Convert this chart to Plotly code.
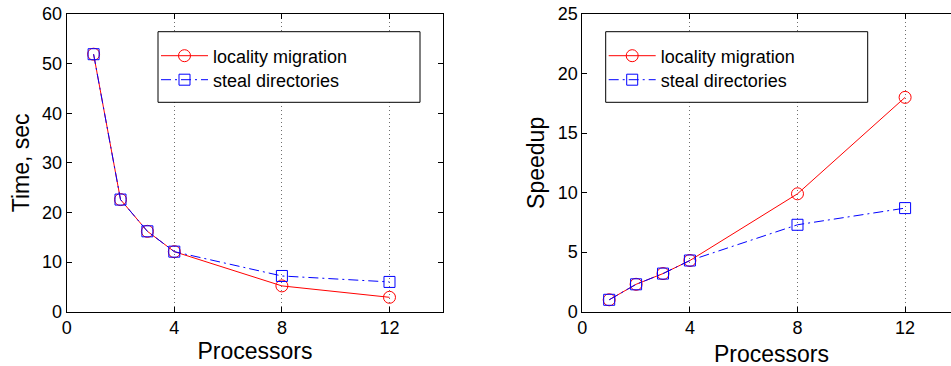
import plotly.graph_objects as go

processors = [1, 2, 3, 4, 8, 12]
time_locality = [51.9, 22.6, 16.2, 12.1, 5.2, 2.9]
time_steal = [51.9, 22.6, 16.2, 12.1, 7.2, 6.0]
speedup_locality = [1.0, 2.3, 3.2, 4.3, 9.9, 18.0]
speedup_steal = [1.0, 2.3, 3.2, 4.3, 7.3, 8.7]
series_names = ["locality migration", "steal directories"]
x_ticks = [0, 4, 8, 12]

W, H = 951, 366
FONT = "Liberation Sans, Arial, sans-serif"
RED = "rgb(255,0,0)"
BLUE = "rgb(0,0,255)"

fig = go.Figure()

def add_pair(xa, ya, y1, y2, leg1, leg2):
    fig.add_trace(go.Scatter(
        x=processors, y=y1, name=series_names[0], xaxis=xa, yaxis=ya,
        mode="lines+markers", legend=leg1, showlegend=True,
        line=dict(color=RED, width=1),
        marker=dict(symbol="circle-open", size=12, color=RED, line=dict(width=1, color=RED)),
    ))
    fig.add_trace(go.Scatter(
        x=processors, y=y2, name=series_names[1], xaxis=xa, yaxis=ya,
        mode="lines+markers", legend=leg2, showlegend=True,
        line=dict(color=BLUE, width=1, dash="10px,4px,2px,4px"),
        marker=dict(symbol="square-open", size=11, color=BLUE, line=dict(width=1, color=BLUE)),
    ))

add_pair("x", "y", time_locality, time_steal, "legend", "legend2")
add_pair("x2", "y2", speedup_locality, speedup_steal, "legend3", "legend4")

ydom = [1 - 311.7 / H, 1 - 14 / H]
axis_common = dict(
    showline=True, linecolor="black", linewidth=1,
    ticks="inside", ticklen=5, tickcolor="black", tickwidth=1,
    tickfont=dict(family=FONT, size=18, color="black"),
    zeroline=False, automargin=False,
)
grid = dict(showgrid=True, gridcolor="rgb(110,110,110)", griddash="1px,3px", gridwidth=1)

def leg(xpx, ypx):
    return dict(x=xpx / W, y=1 - ypx / H, xanchor="left", yanchor="middle",
                bgcolor="rgba(0,0,0,0)", borderwidth=0, itemwidth=47,
                font=dict(family=FONT, size=18, color="black"), tracegroupgap=0)

fig.update_layout(
    width=W, height=H, autosize=False,
    margin=dict(l=0, r=0, t=0, b=0),
    paper_bgcolor="white", plot_bgcolor="white",
    font=dict(family=FONT, color="black"),
    showlegend=True,
    xaxis=dict(domain=[66.7 / W, 443.3 / W], range=[0, 14], tickvals=x_ticks,
               mirror="ticks", anchor="y",
               title=dict(text="Processors", font=dict(family=FONT, size=23), standoff=4),
               **grid, **axis_common),
    yaxis=dict(domain=ydom, range=[0, 60], dtick=10, showgrid=False,
               mirror="ticks", anchor="x",
               title=dict(text="Time, sec", font=dict(family=FONT, size=23), standoff=6),
               **axis_common),
    xaxis2=dict(domain=[582.3 / W, 1.0], range=[0, (951 - 582.3) / 26.9], tickvals=x_ticks,
                mirror="ticks", anchor="y2",
                **grid, **axis_common),
    yaxis2=dict(domain=ydom, range=[0, 25], dtick=5, showgrid=False,
                mirror=False, anchor="x2",
                title=dict(text="Speedup", font=dict(family=FONT, size=23), standoff=6),
                **axis_common),
    legend=leg(156, 56),
    legend2=leg(156, 80),
    legend3=leg(603.7, 56),
    legend4=leg(603.7, 80),
    shapes=[
        dict(type="rect", xref="paper", yref="paper",
             x0=158 / W, x1=420 / W, y0=1 - 102.3 / H, y1=1 - 31.7 / H,
             line=dict(color="black", width=1), fillcolor="white", layer="above"),
        dict(type="rect", xref="paper", yref="paper",
             x0=605.7 / W, x1=867.7 / W, y0=1 - 102.3 / H, y1=1 - 31.7 / H,
             line=dict(color="black", width=1), fillcolor="white", layer="above"),
    ],
    annotations=[
        dict(text="Processors", xref="paper", yref="paper",
             x=771 / W, y=1 - 354 / H, xanchor="center", yanchor="middle",
             showarrow=False, font=dict(family=FONT, size=23, color="black")),
    ],
)

fig.write_html("out.html")
